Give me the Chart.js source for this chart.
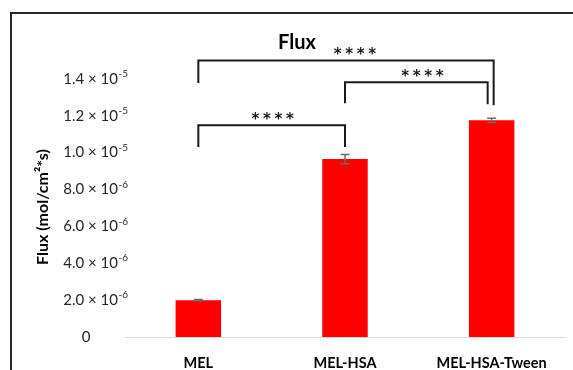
<!DOCTYPE html>
<html>
<head>
<meta charset="utf-8">
<script src="https://cdn.jsdelivr.net/npm/chart.js@4.4.1/dist/chart.umd.min.js"></script>
<style>
  html, body { margin: 0; padding: 0; background: #fff; }
  #wrap { position: relative; width: 573px; height: 370px; overflow: hidden; }
  #flux { position: absolute; left: 0; top: 0; }
  /* outer frame seen on the top and left edges */
  #frame {
    position: absolute; left: 10px; top: 12px; width: 620px; height: 420px;
    border-top: 2px solid #262626; border-left: 2px solid #262626;
    pointer-events: none;
  }
</style>
</head>
<body>
<div id="wrap">
  <canvas id="flux" width="573" height="370"></canvas>
  <div id="frame"></div>
</div>
<script>
const categories = ["MEL", "MEL-HSA", "MEL-HSA-Tween"];
const fluxValues = [2.0e-6, 9.65e-6, 11.75e-6];
const fluxErrors = [0.04e-6, 0.25e-6, 0.12e-6];

const yTickValues = [0, 2e-6, 4e-6, 6e-6, 8e-6, 1.0e-5, 1.2e-5, 1.4e-5];
const yTickMantissas = ["0", "2.0", "4.0", "6.0", "8.0", "1.0", "1.2", "1.4"];
const yTickExponents = ["", "-6", "-6", "-6", "-6", "-5", "-5", "-5"];

// significance brackets (category indices and heights in flux units)
const bracketFrom = [0, 1, 0];
const bracketTo = [2, 2, 1];
const bracketLevel = [15.0e-6, 13.82e-6, 11.49e-6];
const bracketLeftEnd = [13.77e-6, 12.68e-6, 10.3e-6];
const bracketRightEnd = [12.57e-6, 12.63e-6, 10.3e-6];
const bracketLabels = ["****", "****", "****"];

const FONT = "Lato, 'Open Sans', sans-serif";

const fluxDecor = {
  id: "fluxDecor",
  afterDatasetsDraw(chart) {
    const { ctx } = chart;
    const x = chart.scales.x;
    const y = chart.scales.y;

    // error bars
    ctx.save();
    ctx.strokeStyle = "#6b6b6b";
    ctx.lineWidth = 1.5;
    fluxValues.forEach((v, i) => {
      const cx = x.getPixelForValue(i);
      const top = y.getPixelForValue(v + fluxErrors[i]);
      const bot = y.getPixelForValue(v - fluxErrors[i]);
      ctx.beginPath();
      ctx.moveTo(cx, top); ctx.lineTo(cx, bot);
      ctx.moveTo(cx - 4.5, top); ctx.lineTo(cx + 4.5, top);
      ctx.moveTo(cx - 4.5, bot); ctx.lineTo(cx + 4.5, bot);
      ctx.stroke();
    });
    ctx.restore();

    // brackets + stars
    const rightNudge = [2, -4, 0];
    const starNudge = [9, 6, 1];
    ctx.save();
    ctx.strokeStyle = "#1a1a1a";
    ctx.lineWidth = 2;
    ctx.fillStyle = "#1a1a1a";
    ctx.font = "bold 15px 'DejaVu Sans', sans-serif";
    ctx.textAlign = "center";
    ctx.textBaseline = "alphabetic";
    const m = ctx.measureText("*");
    const shift = (m.actualBoundingBoxAscent - m.actualBoundingBoxDescent) / 2;
    bracketLevel.forEach((lvl, i) => {
      const x1 = x.getPixelForValue(bracketFrom[i]);
      const x2 = x.getPixelForValue(bracketTo[i]) + rightNudge[i];
      const yl = y.getPixelForValue(lvl);
      ctx.beginPath();
      ctx.moveTo(x1, y.getPixelForValue(bracketLeftEnd[i]));
      ctx.lineTo(x1, yl);
      ctx.lineTo(x2, yl);
      ctx.lineTo(x2, y.getPixelForValue(bracketRightEnd[i]));
      ctx.stroke();
      const mid = (x1 + x2) / 2 + starNudge[i];
      const stars = bracketLabels[i].split("");
      stars.forEach((s, k) => {
        ctx.fillText(s, mid + (k - (stars.length - 1) / 2) * 11.5, yl - 9 + shift);
      });
    });
    ctx.restore();
  },
  afterDraw(chart) {
    const { ctx } = chart;
    const y = chart.scales.y;
    ctx.save();
    ctx.fillStyle = "#000";

    // title
    ctx.font = "bold 20px " + FONT;
    ctx.textAlign = "center";
    ctx.textBaseline = "middle";
    ctx.fillText("Flux", 297, 43);

    // y tick labels with superscript exponents
    ctx.fillStyle = "#262626";
    yTickValues.forEach((v, i) => {
      const py = y.getPixelForValue(v);
      if (!yTickExponents[i]) {
        ctx.font = "15px " + FONT;
        ctx.textAlign = "center";
        ctx.fillText(yTickMantissas[i], 86, py);
        return;
      }
      ctx.font = "15px " + FONT;
      ctx.textAlign = "right";
      ctx.fillText(yTickMantissas[i] + " \u00d7 10", 118, py);
      ctx.font = "10px " + FONT;
      ctx.textAlign = "left";
      ctx.fillText(yTickExponents[i], 118.5, py - 5);
    });

    // y axis title
    ctx.fillStyle = "#000";
    ctx.font = "bold 16px " + FONT;
    ctx.textAlign = "center";
    ctx.translate(43, 207);
    ctx.rotate(-Math.PI / 2);
    ctx.fillText("Flux (mol/cm\u00b2*s)", 0, 0);
    ctx.restore();
  }
};

new Chart(document.getElementById("flux"), {
  type: "bar",
  data: {
    labels: categories,
    datasets: [{
      label: "Flux",
      data: fluxValues,
      backgroundColor: "#ff0000",
      borderWidth: 0,
      categoryPercentage: 1,
      barPercentage: 0.31
    }]
  },
  options: {
    responsive: false,
    animation: false,
    layout: { padding: { top: 42, right: 8, left: 0, bottom: 0 } },
    plugins: { legend: { display: false }, tooltip: { enabled: false } },
    scales: {
      x: {
        grid: { display: false },
        border: { color: "#d9d9d9", width: 1 },
        ticks: {
          color: "#000",
          padding: 10,
          font: { family: FONT, size: 14.5, weight: "bold" }
        },
        afterFit(scale) { scale.height = 33; }
      },
      y: {
        min: 0,
        max: 1.6e-5,
        grid: { display: false },
        border: { display: false },
        ticks: { display: false },
        afterFit(scale) { scale.width = 125; }
      }
    }
  },
  plugins: [fluxDecor]
});
</script>
</body>
</html>
